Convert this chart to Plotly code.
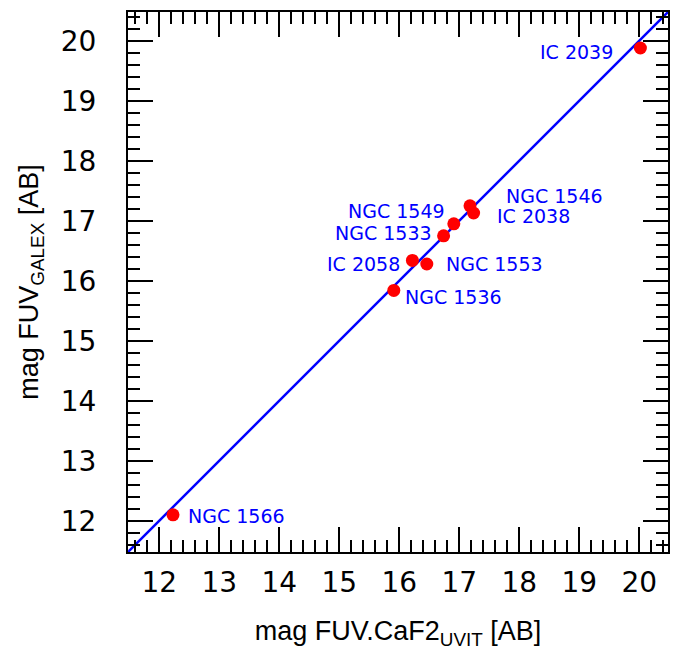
import plotly.graph_objects as go

# ---- data ----
galaxies = ["NGC 1566", "IC 2039", "NGC 1536", "IC 2058", "NGC 1553",
            "NGC 1533", "NGC 1549", "NGC 1546", "IC 2038"]
mag_uvit = [12.23, 20.02, 15.91, 16.22, 16.46, 16.74, 16.91, 17.18, 17.24]
mag_galex = [12.10, 19.88, 15.84, 16.34, 16.28, 16.75, 16.95, 17.25, 17.13]
one_to_one = [11.0, 21.0]
tick_values = [12, 13, 14, 15, 16, 17, 18, 19, 20]
tick_labels = ["12", "13", "14", "15", "16", "17", "18", "19", "20"]

# label placement (layout only): (xanchor, xshift, yshift)
label_pos = {
    "NGC 1566": ("left", 14, -1),
    "IC 2039": ("right", -26, -4),
    "NGC 1536": ("left", 10, -7),
    "IC 2058": ("right", -11, -4),
    "NGC 1553": ("left", 18, 0),
    "NGC 1533": ("right", -11, 3),
    "NGC 1549": ("right", -8, 13),
    "NGC 1546": ("left", 35, 10),
    "IC 2038": ("left", 22, -3),
}

axis_range = [11.48, 20.48]

fig = go.Figure()
fig.add_trace(go.Scatter(
    x=one_to_one, y=one_to_one, mode="lines",
    line=dict(color="#0000ff", width=2.5), hoverinfo="skip", showlegend=False))
fig.add_trace(go.Scatter(
    x=mag_uvit, y=mag_galex, mode="markers",
    marker=dict(color="#ff0000", size=13, line=dict(width=0)),
    text=galaxies, showlegend=False))

for name, xv, yv in zip(galaxies, mag_uvit, mag_galex):
    xa, xs, ys = label_pos[name]
    fig.add_annotation(x=xv, y=yv, xref="x", yref="y", text=name,
                       showarrow=False, xanchor=xa, yanchor="middle",
                       xshift=xs, yshift=ys, borderpad=0,
                       font=dict(family="DejaVu Sans", size=19, color="#0000ff"))

axis_common = dict(
    range=axis_range, tickmode="array", tickvals=tick_values, ticktext=tick_labels,
    ticks="inside", ticklen=25, tickwidth=2, tickcolor="black",
    showline=True, linewidth=2, linecolor="black", mirror="allticks",
    showgrid=False, zeroline=False,
    tickfont=dict(family="DejaVu Sans", size=28, color="black"),
    minor=dict(dtick=0.2, tick0=12, ticks="inside", ticklen=12, tickwidth=2,
               tickcolor="black", showgrid=False),
)

fig.update_layout(
    width=676, height=650,
    margin=dict(l=128, r=6, t=12, b=96),
    paper_bgcolor="white", plot_bgcolor="white",
    xaxis=dict(**axis_common,
               title=dict(text="mag FUV.CaF2<sub>UVIT</sub> [AB]",
                          font=dict(family="Liberation Sans", size=27, color="black"),
                          standoff=27),
               ticklabelstandoff=4),
    yaxis=dict(**axis_common,
               title=dict(text="mag FUV<sub>GALEX</sub> [AB]",
                          font=dict(family="Liberation Sans", size=27, color="black"),
                          standoff=14),
               ticklabelstandoff=24),
)

fig.write_html("out.html")
